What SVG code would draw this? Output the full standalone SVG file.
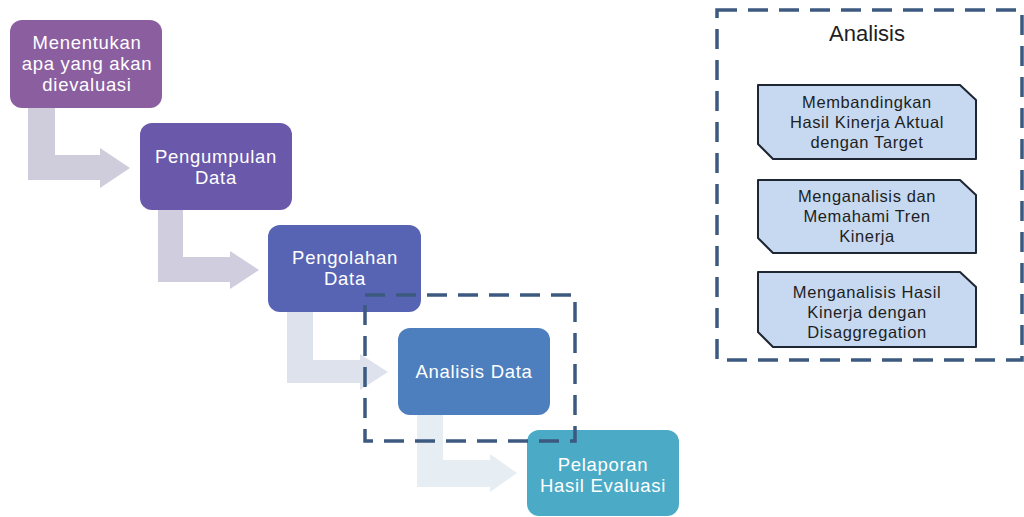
<svg xmlns="http://www.w3.org/2000/svg" width="1024" height="517" viewBox="0 0 1024 517">
<style>
.st{font-family:"Liberation Sans",Arial,sans-serif;font-size:18.5px;letter-spacing:0.7px;fill:#ffffff;text-anchor:middle}
.sub{fill:#C6D9F1;stroke:#1E2533;stroke-width:2;stroke-linejoin:round}
.subt{font-family:"Liberation Sans",Arial,sans-serif;font-size:16.5px;letter-spacing:0.6px;fill:#1E1E1E;text-anchor:middle}
.dash{fill:none;stroke:#3C5A80;stroke-width:3.5;stroke-dasharray:20 11}
</style>
<rect width="1024" height="517" fill="#ffffff"/>
<g id="connectors">
<path d="M28,108 H55 V155 H100 V148 L130,168 L100,188 V180 H28 Z" fill="#CFCCDC"/>
<path d="M158,210 H183 V257 H230 V251 L259,270 L230,289 V282 H158 Z" fill="#CFCDDE"/>
<path d="M287,312 H313 V360 H360 V354 L388,372 L360,390 V383 H287 Z" fill="#DEE2EC"/>
<path d="M417,415 H443 V460 H490 V454 L517,473 L490,492 V487 H417 Z" fill="#E7EEF3"/>
</g>
<g id="n1"><rect x="10" y="20" width="152" height="88" rx="12" fill="#8B5EA0"/>
<text class="st" x="87" y="49">Menentukan</text><text class="st" x="87" y="70">apa yang akan</text><text class="st" x="87" y="91">dievaluasi</text></g>
<g id="n2"><rect x="140" y="123" width="152" height="87" rx="12" fill="#6A58AB"/>
<text class="st" x="216" y="163">Pengumpulan</text><text class="st" x="216" y="184">Data</text></g>
<g id="n3"><rect x="268" y="225" width="153" height="87" rx="12" fill="#5764B3"/>
<text class="st" x="345" y="264">Pengolahan</text><text class="st" x="345" y="285">Data</text></g>
<g id="n4"><rect x="398" y="328" width="152" height="87" rx="12" fill="#4D7FBE"/>
<text class="st" x="474" y="378">Analisis Data</text></g>
<g id="n5"><rect x="527" y="430" width="152" height="86" rx="12" fill="#4BABC6"/>
<text class="st" x="603" y="471">Pelaporan</text><text class="st" x="603" y="492">Hasil Evaluasi</text></g>
<g id="focus"><rect class="dash" x="365" y="295" width="210" height="146"/></g>
<g id="analisis">
<rect class="dash" x="717" y="10" width="305" height="350"/>
<text x="867" y="41" font-family="'Liberation Sans',Arial,sans-serif" font-size="22px" fill="#1E1E1E" text-anchor="middle">Analisis</text>
</g>
<g id="a1"><path class="sub" d="M758,85 H960 L976,100 V159 H773 L758,144 Z"/>
<text class="subt" x="867" y="108">Membandingkan</text><text class="subt" x="867" y="128">Hasil Kinerja Aktual</text><text class="subt" x="867" y="148">dengan Target</text></g>
<g id="a2"><path class="sub" d="M758,180 H960 L976,195 V253 H773 L758,238 Z"/>
<text class="subt" x="867" y="202">Menganalisis dan</text><text class="subt" x="867" y="222">Memahami Tren</text><text class="subt" x="867" y="242">Kinerja</text></g>
<g id="a3"><path class="sub" d="M758,272 H960 L976,287 V347 H773 L758,332 Z"/>
<text class="subt" x="867" y="298">Menganalisis Hasil</text><text class="subt" x="867" y="318">Kinerja dengan</text><text class="subt" x="867" y="338">Disaggregation</text></g>
</svg>
